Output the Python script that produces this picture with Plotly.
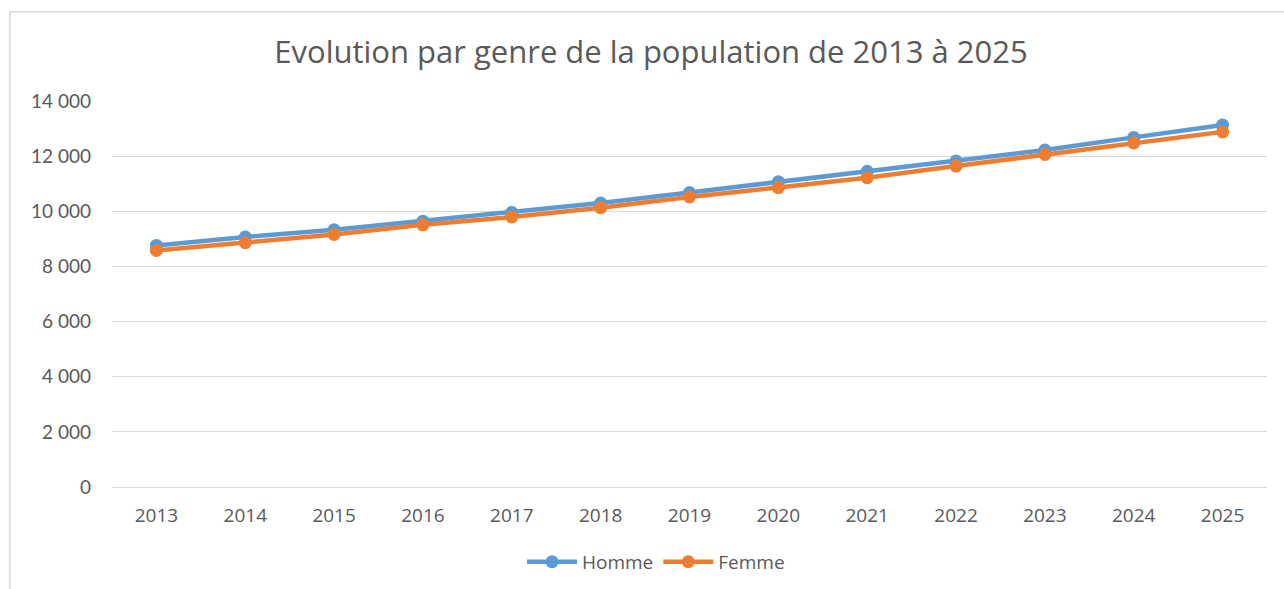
import plotly.graph_objects as go

# Données
annees = ["2013", "2014", "2015", "2016", "2017", "2018", "2019",
          "2020", "2021", "2022", "2023", "2024", "2025"]
homme = [8760, 9070, 9330, 9640, 9960, 10300, 10680,
         11070, 11450, 11820, 12220, 12680, 13130]
femme = [8580, 8860, 9160, 9510, 9790, 10130, 10520,
         10860, 11220, 11640, 12060, 12480, 12880]
y_ticks = [0, 2000, 4000, 6000, 8000, 10000, 12000, 14000]

gris = "#595959"

fig = go.Figure()
fig.add_trace(go.Scatter(
    x=annees, y=homme, name="Homme", mode="lines+markers",
    line=dict(color="#5B9BD5", width=4.5),
    marker=dict(size=13, color="#5B9BD5"),
))
fig.add_trace(go.Scatter(
    x=annees, y=femme, name="Femme", mode="lines+markers",
    line=dict(color="#ED7D31", width=4.5),
    marker=dict(size=13, color="#ED7D31"),
))

fig.update_layout(
    width=1284, height=589,
    margin=dict(l=112, r=17, t=101, b=102),
    paper_bgcolor="white", plot_bgcolor="white",
    separators=", ",
    font=dict(family="Open Sans", color=gris, size=16),
    title=dict(text="Evolution par genre de la population de 2013 à 2025",
               x=0.507, xanchor="center", y=0.911, yanchor="middle",
               font=dict(size=31, color=gris)),
    showlegend=True,
    legend=dict(orientation="h", x=0.471, xanchor="center",
                yref="container", y=0.046, yanchor="middle",
                font=dict(size=19, color=gris),
                itemwidth=50, traceorder="normal"),
    xaxis=dict(type="category", showgrid=False, zeroline=False,
               showline=False, ticks="", tickfont=dict(size=19),
               range=[-0.5, 12.5], ticklabelstandoff=15, automargin=False),
    yaxis=dict(range=[0, 14000], tickvals=y_ticks, tickformat=",d",
               showgrid=True, gridcolor="#D9D9D9", gridwidth=1,
               zeroline=True, zerolinecolor="#D9D9D9", zerolinewidth=1,
               showline=False, ticks="", ticklabelstandoff=20,
               tickfont=dict(size=19, family="Lato"), automargin=False),
    shapes=[dict(type="rect", xref="paper", yref="paper",
                 x0=-0.0885, x1=1.2, y0=-0.5, y1=1.231,
                 line=dict(color="#D9D9D9", width=1.5),
                 fillcolor="rgba(0,0,0,0)", layer="below")],
)

# pas de marge autour du graphique dans la page, pas de barre d'outils
fig.write_html("out.html", config={"displayModeBar": False},
               post_script="document.body.style.margin='0';")
